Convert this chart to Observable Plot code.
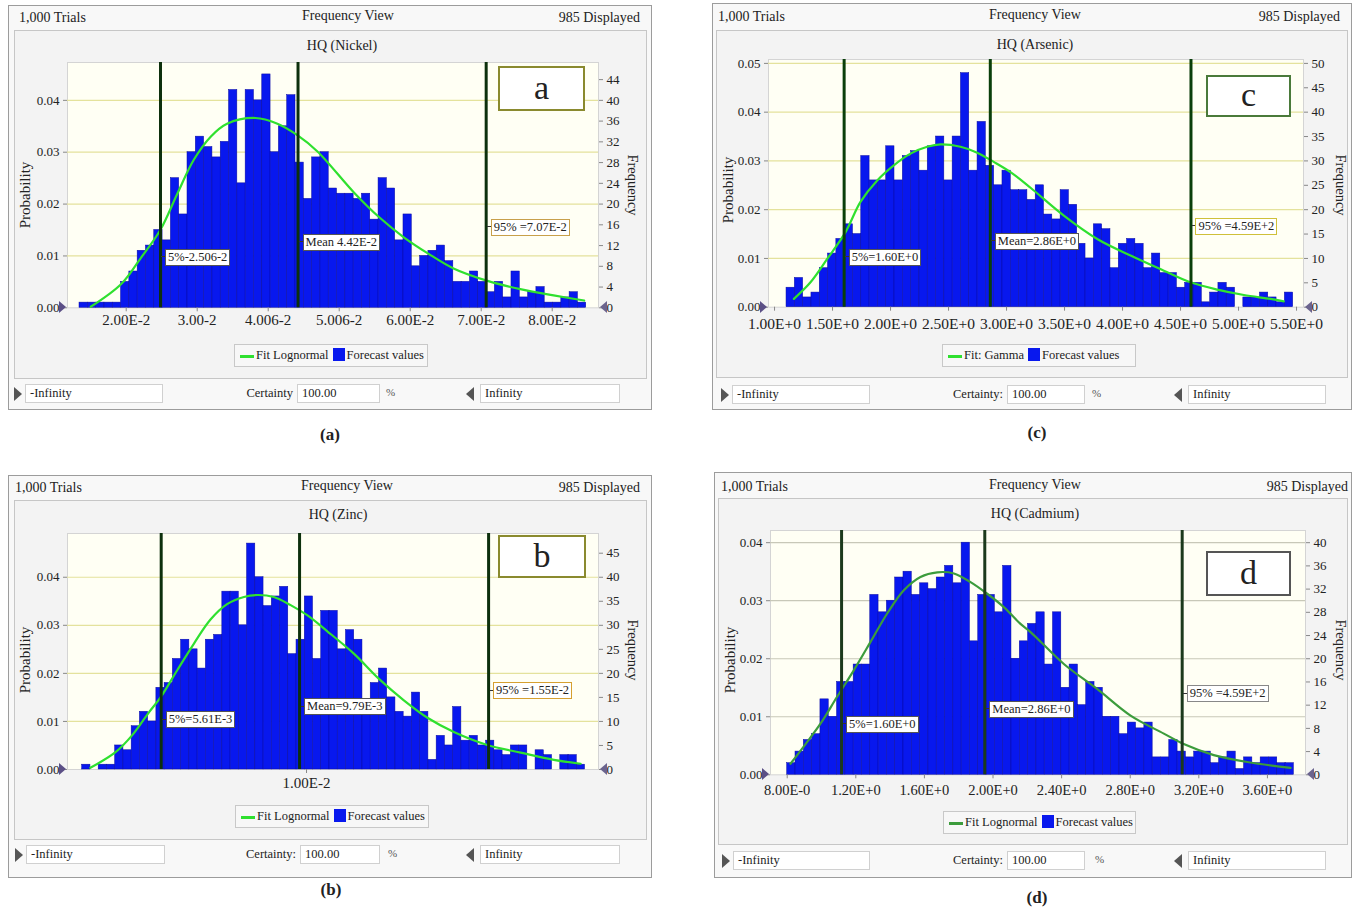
<!DOCTYPE html>
<html><head><meta charset="utf-8">
<script src="https://cdn.jsdelivr.net/npm/d3@7"></script>
<script src="https://cdn.jsdelivr.net/npm/@observablehq/plot@0.6"></script>
<style>
html,body{margin:0;padding:0;background:#fff}
body{width:1359px;height:909px;position:relative;overflow:hidden;font-family:"Liberation Serif","Times New Roman",serif;color:#222}
.a{position:absolute;white-space:nowrap}
</style>
</head><body>
<script>
// ---------------- DATA ----------------
const trials = 1000;

// (a) HQ (Nickel)
const nickelCounts = [1,1,1,1,1,5,7,11,12,15,13,25,18,30,33,31,29,32,42,24,42,40,45,30,35,41,28,21,29,30,
  23,22,22,21,22,17,25,23,13,18,8,10,11,12,9,5,5,7,5,3,5,2,7,2,3,4,1,1,2,3,1];
const nickelBinStart = 0.013423, nickelBinWidth = 0.001170;
const nickelFitX = [0.0150,0.0193,0.0220,0.0248,0.0272,0.0295,0.0319,0.0342,0.0382,0.0413,0.0441,0.0469,0.0521,0.0556,0.0591,0.0626,0.0661,0.0709,0.0755,0.0802,0.0845];
const nickelFitY = [0.2,4.6,9.5,15,22,28.5,33,35.5,36.6,35.5,33.3,30.2,22.2,17.5,13.6,10.4,7.6,5.2,3.6,2.4,1.4];
const nickelMarkers = [0.02483,0.0442,0.0707];
const nickelMarkerLabels = ["5%-2.506-2","Mean 4.42E-2","95% =7.07E-2"];
const nickelXTicks = [0.02,0.03,0.04,0.05,0.06,0.07,0.08];
const nickelXLabels = ["2.00E-2","3.00-2","4.006-2","5.006-2","6.00E-2","7.00E-2","8.00E-2"];
const nickelProbTicks = [0,0.01,0.02,0.03,0.04];
const nickelFreqTicks = [0,4,8,12,16,20,24,28,32,36,40,44];

// (c) HQ (Arsenic)
const arsenicCounts = [4,6,2,3,8,11,14,17,15,31,26,26,33,26,31,32,28,33,35,26,35,48,28,38,29,25,28,24,24,22,
  25,19,18,24,21,13,10,17,16,8,13,14,13,8,11,7,7,4,5,5,1,3,5,4,0,2,2,3,2,1,3];
const arsenicBinStart = 1.1034, arsenicBinWidth = 0.0716;
const arsenicFitX = [1.167,1.31,1.454,1.612,1.741,1.885,2.028,2.172,2.316,2.431,2.603,2.747,2.89,3.034,3.207,3.494,3.782,4.069,4.356,4.586,4.816,5.046,5.276,5.39];
const arsenicFitY = [1.7,5.1,9.9,15.4,21.6,26,29.1,31.5,32.9,33.4,32.9,31.7,29.8,27.7,24.5,18.8,14,10.6,7.5,5.1,3.6,2.5,1.7,1.2];
const arsenicMarkers = [1.60,2.86,4.59];
const arsenicMarkerLabels = ["5%=1.60E+0","Mean=2.86E+0","95% =4.59E+2"];
const arsenicXTicks = [1,1.5,2,2.5,3,3.5,4,4.5,5,5.5];
const arsenicXLabels = ["1.00E+0","1.50E+0","2.00E+0","2.50E+0","3.00E+0","3.50E+0","4.00E+0","4.50E+0","5.00E+0","5.50E+0"];
const arsenicProbTicks = [0,0.01,0.02,0.03,0.04,0.05];
const arsenicFreqTicks = [0,5,10,15,20,25,30,35,40,45,50];

// (b) HQ (Zinc)
const zincCounts = [1,0,1,1,5,4,9,12,10,17,18,23,27,25,21,27,28,37,37,30,47,40,34,36,38,24,27,36,23,33,
  33,25,29,27,13,18,21,15,12,11,16,12,2,7,5,13,6,7,5,6,4,3,5,5,0,4,3,0,3,3,1];
const zincBinStart = 0.003224, zincBinWidth = 0.000249;
const zincFitX = [0.00347,0.00423,0.00473,0.00524,0.00559,0.00609,0.0066,0.0071,0.0076,0.00811,0.00851,0.00901,0.00952,0.01002,0.01062,0.01143,0.01218,0.01294,0.01369,0.01445,0.01546,0.01647,0.01747,0.01828];
const zincFitY = [0.35,3.6,7.1,11.9,15,20.6,26.2,31.2,34.4,35.9,36.3,35.9,34.2,32.1,28.8,24.1,18.9,14.4,10.6,7.8,5.1,3.5,2,1.2];
const zincMarkers = [0.00561,0.00979,0.0155];
const zincMarkerLabels = ["5%=5.61E-3","Mean=9.79E-3","95% =1.55E-2"];
const zincXTicks = [0.01];
const zincXLabels = ["1.00E-2"];
const zincProbTicks = [0,0.01,0.02,0.03,0.04];
const zincFreqTicks = [0,5,10,15,20,25,30,35,40,45];

// (d) HQ (Cadmium)
const cadmiumCounts = [2,4,6,7,13,10,16,16,19,19,31,28,30,34,35,31,33,32,34,36,33,40,23,31,31,28,36,20,23,26,
  28,19,28,15,19,12,16,15,10,10,7,9,8,9,3,3,6,4,3,4,4,2,3,4,1,3,2,3,3,2,2];
const cadmiumBinStart = 0.800, cadmiumBinWidth = 0.04843;
const cadmiumFitX = [0.819,0.907,0.994,1.09,1.188,1.286,1.383,1.48,1.577,1.675,1.772,1.869,1.966,2.063,2.16,2.219,2.413,2.607,2.802,2.996,3.112,3.287,3.482,3.735];
const cadmiumFitY = [1.9,5.3,8.8,13.4,18,22.9,27.8,31.8,34.1,34.9,34.7,33.2,31.2,28.9,26,24.6,19.1,14.8,10.2,7.1,5.3,3.4,2.2,1.2];
const cadmiumMarkers = [1.117,1.952,3.103];
const cadmiumMarkerLabels = ["5%=1.60E+0","Mean=2.86E+0","95% =4.59E+2"];
const cadmiumXTicks = [0.8,1.2,1.6,2.0,2.4,2.8,3.2,3.6];
const cadmiumXLabels = ["8.00E-0","1.20E+0","1.60E+0","2.00E+0","2.40E+0","2.80E+0","3.20E+0","3.60E+0"];
const cadmiumProbTicks = [0,0.01,0.02,0.03,0.04];
const cadmiumFreqTicks = [0,4,8,12,16,20,24,28,32,36,40];

// ---------------- PANELS ----------------
const panels = [
 {letter:"a", caption:"(a)", title:"HQ (Nickel)", fitName:"Fit Lognormal", certainty:"Certainty",
  counts:nickelCounts, binStart:nickelBinStart, binWidth:nickelBinWidth, fitX:nickelFitX, fitY:nickelFitY,
  markers:nickelMarkers, markerLabels:nickelMarkerLabels, xTicks:nickelXTicks, xLabels:nickelXLabels,
  probTicks:nickelProbTicks, freqTicks:nickelFreqTicks,
  L:{outer:[8,5,644,405], inner:[14,30,633,349], svg:[30,55,610,280], m:[7,42,27.7,37], xDomain:[0.011732,0.08652], yMax:47.3,
     xFont:15, xPad:3,
     head:{top:10, left:19, right:640, cx:348}, titleC:[342,46], prob:[25,195], freq:[632,185],
     legend:[234,344,194,23], bottom:{top:384, tri1:14, b1:[25,138], certR:293, b2:[297,83], pct:386, tri2:466, b3:[480,140]},
     letterBox:[498,66,87,45,"#8a8a2e"], cap:[330,435], labelY:[9.7,12.6,15.5], l95:"#c8a04a",
     grid:"#e4e29c", fit:"#2fe02f", marker:"#0d300d"}},
 {letter:"c", caption:"(c)", title:"HQ (Arsenic)", fitName:"Fit: Gamma", certainty:"Certainty:",
  counts:arsenicCounts, binStart:arsenicBinStart, binWidth:arsenicBinWidth, fitX:arsenicFitX, fitY:arsenicFitY,
  markers:arsenicMarkers, markerLabels:arsenicMarkerLabels, xTicks:arsenicXTicks, xLabels:arsenicXLabels,
  probTicks:arsenicProbTicks, freqTicks:arsenicFreqTicks,
  L:{outer:[712,3,640,407], inner:[716,30,632,348], svg:[735,52,610,283], m:[7,42,28.3,33], xDomain:[0.948,5.56], yMax:50.8,
     xFont:15.5, xPad:7,
     head:{top:9, left:718, right:1340, cx:1035}, titleC:[1035,45], prob:[728,190], freq:[1340,185],
     legend:[942,344,194,23], bottom:{top:385, tri1:721, b1:[732,138], certR:1003, b2:[1007,78], pct:1092, tri2:1174, b3:[1188,138]},
     letterBox:[1206,75,85,42,"#4a7a3a"], cap:[1037,433], labelY:[10.2,13.5,16.6], l95:"#cfc03a",
     grid:"#e4e29c", fit:"#2fe02f", marker:"#0a3f0a"}},
 {letter:"b", caption:"(b)", title:"HQ (Zinc)", fitName:"Fit Lognormal", certainty:"Certainty:",
  counts:zincCounts, binStart:zincBinStart, binWidth:zincBinWidth, fitX:zincFitX, fitY:zincFitY,
  markers:zincMarkers, markerLabels:zincMarkerLabels, xTicks:zincXTicks, xLabels:zincXLabels,
  probTicks:zincProbTicks, freqTicks:zincFreqTicks,
  L:{outer:[8,475,644,403], inner:[14,500,633,340], svg:[30,526,610,271], m:[7,42,28,37], xDomain:[0.00278,0.01882], yMax:49.1,
     xFont:15, xPad:4,
     head:{top:480, left:15, right:640, cx:347}, titleC:[338,515], prob:[25,660], freq:[632,650],
     legend:[235,805,194,23], bottom:{top:845, tri1:15, b1:[26,139], certR:296, b2:[300,80], pct:388, tri2:466, b3:[480,140]},
     letterBox:[498,535,88,43,"#8a8a2e"], cap:[331,890], labelY:[10.4,13.1,16.4], l95:"#d6a030",
     grid:"#e4e29c", fit:"#2fe02f", marker:"#0d300d"}},
 {letter:"d", caption:"(d)", title:"HQ (Cadmium)", fitName:"Fit Lognormal", certainty:"Certainty:",
  counts:cadmiumCounts, binStart:cadmiumBinStart, binWidth:cadmiumBinWidth, fitX:cadmiumFitX, fitY:cadmiumFitY,
  markers:cadmiumMarkers, markerLabels:cadmiumMarkerLabels, xTicks:cadmiumXTicks, xLabels:cadmiumXLabels,
  probTicks:cadmiumProbTicks, freqTicks:cadmiumFreqTicks,
  L:{outer:[714,472,638,406], inner:[718,498,630,347], svg:[735,523,610,280], m:[7,40,28.7,35], xDomain:[0.7026,3.822], yMax:42.1,
     xFont:14.5, xPad:6,
     head:{top:479, left:721, right:1348, cx:1035}, titleC:[1035,514], prob:[730,660], freq:[1340,650],
     legend:[943,811,193,23], bottom:{top:851, tri1:722, b1:[733,137], certR:1003, b2:[1007,78], pct:1095, tri2:1174, b3:[1188,138]},
     letterBox:[1206,551,85,45,"#555"], cap:[1037,898], labelY:[8.7,11.3,14.0], l95:"#888",
     grid:"#c8c8b8", fit:"#3c9c3c", marker:"#1c3a1c"}}
];

// ---------------- DRAW ----------------
function div(css, text){
  const d = document.createElement("div");
  d.className = "a";
  d.style.cssText = css;
  if (text != null) d.textContent = text;
  document.body.appendChild(d);
  return d;
}

for (const p of panels){
  const L = p.L;
  // frames
  div(`left:${L.outer[0]}px;top:${L.outer[1]}px;width:${L.outer[2]}px;height:${L.outer[3]}px;border:1px solid #9c9c9c;background:#f8f8f8;box-sizing:border-box;`);
  div(`left:${L.inner[0]}px;top:${L.inner[1]}px;width:${L.inner[2]}px;height:${L.inner[3]}px;border:1px solid #c6c6c6;background:#f3f3f3;box-sizing:border-box;`);
  // header
  div(`left:${L.head.left}px;top:${L.head.top}px;font-size:14px;`, "1,000 Trials");
  div(`left:${L.head.cx}px;top:${L.head.top-2}px;font-size:14px;transform:translateX(-50%);`, "Frequency View");
  div(`left:${L.head.right}px;top:${L.head.top}px;font-size:14px;transform:translateX(-100%);`, "985 Displayed");
  // title
  div(`left:${L.titleC[0]}px;top:${L.titleC[1]}px;font-size:14px;transform:translate(-50%,-50%);`, p.title);

  // chart
  const rows = p.counts.map((c,i)=>({x1:p.binStart+i*p.binWidth, x2:p.binStart+(i+1)*p.binWidth, count:c}));
  const fit = p.fitX.map((x,i)=>({x, y:p.fitY[i]}));
  const probPos = p.probTicks.map(t=>Math.round(t*trials));
  const probMap = new Map(p.probTicks.map((t,i)=>[probPos[i], t.toFixed(2)]));
  const xMap = new Map(p.xTicks.map((t,i)=>[t, p.xLabels[i]]));
  const gridPos = probPos.filter(v=>v>0);
  const svg = Plot.plot({
    width:L.svg[2], height:L.svg[3],
    marginTop:L.m[0], marginRight:L.m[1], marginBottom:L.m[2], marginLeft:L.m[3],
    x:{domain:L.xDomain}, y:{domain:[0,L.yMax]},
    style:{background:"transparent", fontFamily:"Liberation Serif, serif", fontSize:"13px", color:"#222", overflow:"visible"},
    marks:[
      Plot.frame({fill:"#fffff4", stroke:"#d4d4d4"}),
      Plot.ruleY(gridPos, {stroke:L.grid, strokeWidth:1.2}),
      Plot.rectY(rows, {x1:"x1", x2:"x2", y:"count", fill:"#0818ee", stroke:"#0a0aa0", strokeWidth:0.5}),
      Plot.line(fit, {x:"x", y:"y", stroke:L.fit, strokeWidth:2.2, curve:"catmull-rom"}),
      Plot.ruleX(p.markers, {stroke:L.marker, strokeWidth:3}),
      Plot.axisX({ticks:p.xTicks, tickFormat:d=>xMap.get(d), tickSize:4, tickPadding:L.xPad, fontSize:L.xFont, stroke:"#888", label:null}),
      Plot.axisY({anchor:"left", ticks:probPos, tickFormat:d=>probMap.get(d), tickSize:4, tickPadding:4, stroke:"#888", label:null}),
      Plot.axisY({anchor:"right", ticks:p.freqTicks, tickSize:4, tickPadding:4, stroke:"#888", label:null})
    ]
  });
  svg.style.position = "absolute";
  svg.style.left = L.svg[0] + "px";
  svg.style.top = L.svg[1] + "px";
  document.body.appendChild(svg);

  const sx = svg.scale("x"), sy = svg.scale("y");
  // marker labels
  p.markers.forEach((m,i)=>{
    const x = L.svg[0] + sx.apply(m);
    const y = L.svg[1] + sy.apply(L.labelY[i]);
    div(`left:${x+1.5}px;top:${y-0.5}px;width:4px;height:1px;background:#333;`);
    div(`left:${x+5}px;top:${y-8}px;font-size:12.5px;line-height:15px;padding:0 2px;background:#fff;border:1px solid ${i===2?L.l95:"#555"};`, p.markerLabels[i]);
  });
  // baseline triangles
  const by = L.svg[1] + sy.apply(0);
  const xl = L.svg[0] + L.m[3], xr = L.svg[0] + L.svg[2] - L.m[1];
  div(`left:${xl-8}px;top:${by-6}px;width:0;height:0;border-top:6px solid transparent;border-bottom:6px solid transparent;border-left:7px solid #5b4f86;`);
  div(`left:${xr+2}px;top:${by-6}px;width:0;height:0;border-top:6px solid transparent;border-bottom:6px solid transparent;border-right:7px solid #6b648e;`);

  // axis titles
  div(`left:${L.prob[0]}px;top:${L.prob[1]}px;font-size:15px;transform:translate(-50%,-50%) rotate(-90deg);`, "Probability");
  div(`left:${L.freq[0]}px;top:${L.freq[1]}px;font-size:14.5px;transform:translate(-50%,-50%) rotate(90deg);`, "Frequency");

  // panel letter box
  const lb = L.letterBox;
  div(`left:${lb[0]}px;top:${lb[1]}px;width:${lb[2]}px;height:${lb[3]}px;border:2px solid ${lb[4]};background:#fff;box-sizing:border-box;font-size:34px;line-height:${lb[3]-6}px;text-align:center;`, p.letter);

  // legend
  const lg = L.legend;
  const leg = div(`left:${lg[0]}px;top:${lg[1]}px;width:${lg[2]}px;height:${lg[3]}px;border:1px solid #c8c8c8;background:#f7f7f7;box-sizing:border-box;font-size:12.5px;line-height:21px;`);
  leg.innerHTML = `<span style="display:inline-block;width:14px;height:3px;background:${L.fit};vertical-align:middle;margin:0 2px 0 5px"></span>${p.fitName}<span style="display:inline-block;width:12px;height:13px;background:#0818ee;vertical-align:-2px;margin:0 2px 0 4px"></span>Forecast values`;

  // bottom row
  const bt = L.bottom;
  div(`left:${bt.tri1}px;top:${bt.top+3}px;width:0;height:0;border-top:7px solid transparent;border-bottom:7px solid transparent;border-left:8px solid #555;`);
  div(`left:${bt.b1[0]}px;top:${bt.top}px;width:${bt.b1[1]}px;height:19px;border:1px solid #d0d0d0;background:#fff;box-sizing:border-box;font-size:12.5px;line-height:17px;padding-left:4px;`, "-Infinity");
  div(`left:${bt.certR}px;top:${bt.top+2}px;font-size:12.5px;transform:translateX(-100%);`, p.certainty);
  div(`left:${bt.b2[0]}px;top:${bt.top}px;width:${bt.b2[1]}px;height:19px;border:1px solid #d0d0d0;background:#fff;box-sizing:border-box;font-size:12.5px;line-height:17px;padding-left:4px;`, "100.00");
  div(`left:${bt.pct}px;top:${bt.top+2}px;font-size:11px;color:#555;`, "%");
  div(`left:${bt.tri2}px;top:${bt.top+3}px;width:0;height:0;border-top:7px solid transparent;border-bottom:7px solid transparent;border-right:8px solid #555;`);
  div(`left:${bt.b3[0]}px;top:${bt.top}px;width:${bt.b3[1]}px;height:19px;border:1px solid #d0d0d0;background:#fff;box-sizing:border-box;font-size:12.5px;line-height:17px;padding-left:4px;`, "Infinity");

  // caption
  div(`left:${L.cap[0]}px;top:${L.cap[1]}px;font-size:17px;font-weight:bold;transform:translate(-50%,-50%);`, p.caption);
}
</script>
</body></html>
